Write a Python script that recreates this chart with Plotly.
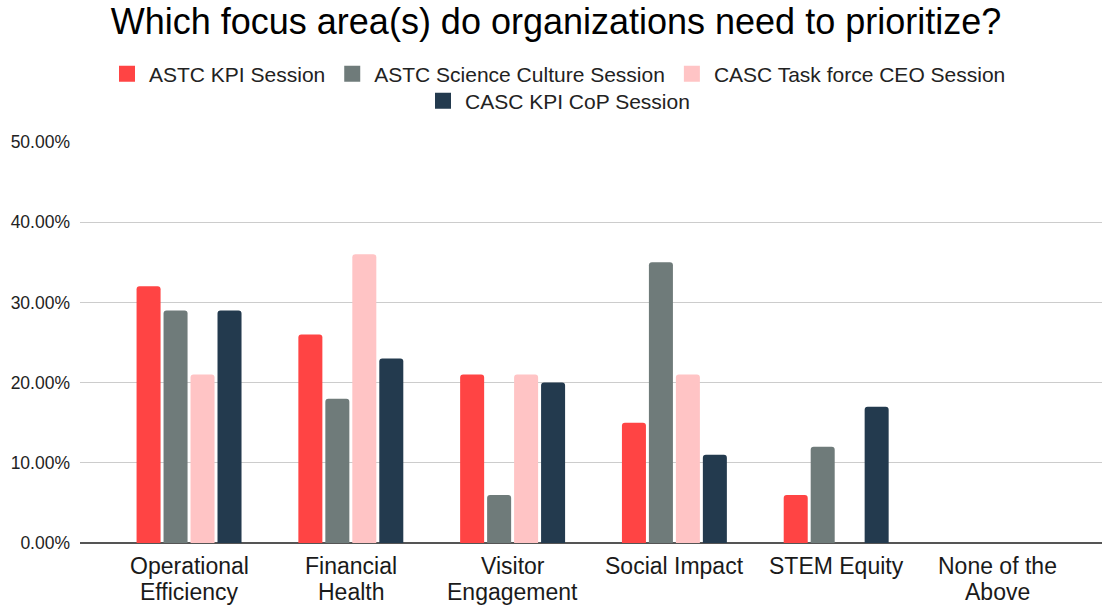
import plotly.graph_objects as go

# Survey responses: share of respondents choosing each focus area, per session
categories = [
    "Operational<br>Efficiency",
    "Financial<br>Health",
    "Visitor<br>Engagement",
    "Social Impact",
    "STEM Equity",
    "None of the<br>Above",
]
astc_kpi = [0.32, 0.26, 0.21, 0.15, 0.06, 0.0]
astc_culture = [0.29, 0.18, 0.06, 0.35, 0.12, 0.0]
casc_ceo = [0.21, 0.36, 0.21, 0.21, 0.0, 0.0]
casc_cop = [0.29, 0.23, 0.20, 0.11, 0.17, 0.0]

series = [
    ("ASTC KPI Session", astc_kpi, "#ff4444", "legend"),
    ("ASTC Science Culture Session", astc_culture, "#6f7b7a", "legend"),
    ("CASC Task force CEO Session", casc_ceo, "#ffc4c5", "legend"),
    ("CASC KPI CoP Session", casc_cop, "#233a4e", "legend2"),
]

FONT = "Liberation Sans, Arial, sans-serif"
xpos = list(range(len(categories)))

fig = go.Figure()
for name, vals, color, leg in series:
    fig.add_trace(go.Bar(
        x=xpos,
        y=vals,
        name=name,
        marker=dict(color=color, line=dict(width=0)),
        showlegend=False,
        hovertemplate="%{y:.2%}<extra>" + name + "</extra>",
    ))

# Legend entries with larger square swatches
for name, vals, color, leg in series:
    fig.add_trace(go.Scatter(
        x=[None], y=[None], mode="markers", name=name,
        marker=dict(symbol="square", size=16, color=color),
        legend=leg, hoverinfo="skip",
    ))

# Category labels, one annotation per line for tight line spacing
LINE_Y = [-23, -49]
for i, label in enumerate(categories):
    for j, part in enumerate(label.split("<br>")):
        fig.add_annotation(
            x=xpos[i], xref="x", y=0, yref="paper",
            yanchor="middle", yshift=LINE_Y[j],
            text=part, showarrow=False,
            font=dict(size=23, color="#1a1a1a", family=FONT),
        )

legend_common = dict(
    orientation="h", x=558 / 1102, xanchor="center", xref="container",
    yanchor="middle", yref="container",
    font=dict(size=21, color="#222222"),
    bgcolor="rgba(0,0,0,0)",
    itemwidth=34,
    itemclick=False, itemdoubleclick=False,
)

fig.update_layout(
    width=1102,
    height=606,
    paper_bgcolor="white",
    plot_bgcolor="white",
    barmode="group",
    bargap=0.333,
    bargroupgap=0.11,
    barcornerradius=3,
    margin=dict(l=80, r=0, t=142, b=63),
    font=dict(family=FONT, color="#222222"),
    title=dict(
        text="Which focus area(s) do organizations need to prioritize?",
        x=556 / 1102, xanchor="center", xref="container",
        y=1 - 21 / 606, yanchor="middle", yref="container",
        font=dict(size=36, color="#000000", family=FONT),
    ),
    legend=dict(legend_common, y=1 - 74 / 606),
    legend2=dict(legend_common, y=1 - 101 / 606),
    xaxis=dict(
        range=[-0.674, 5.643],
        tickvals=xpos,
        showticklabels=False,
        showgrid=False,
        ticks="",
        showline=False,
        zeroline=False,
        fixedrange=True,
    ),
    yaxis=dict(
        range=[0, 0.5],
        tickvals=[0, 0.1, 0.2, 0.3, 0.4, 0.5],
        tickformat=".2%",
        showgrid=True,
        gridcolor="#cccccc",
        gridwidth=1,
        zeroline=True,
        zerolinecolor="#555555",
        zerolinewidth=2,
        tickfont=dict(size=17.5, color="#222222"),
        ticklabelstandoff=9,
        fixedrange=True,
    ),
)

fig.write_html("out.html")
